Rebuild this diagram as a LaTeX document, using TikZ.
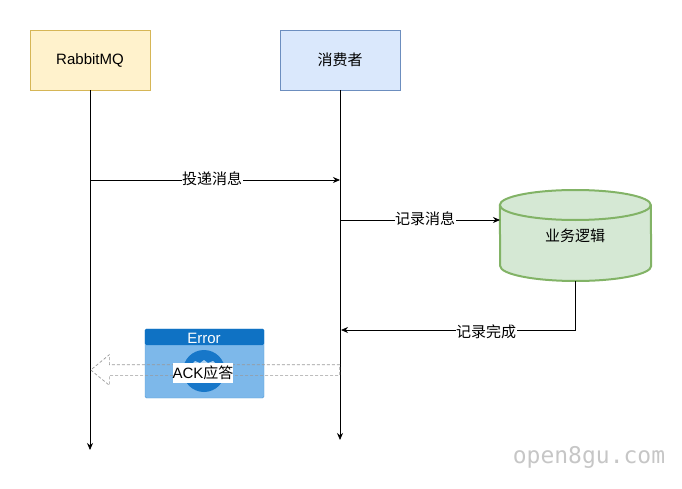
\documentclass[tikz,border=0pt]{standalone}
\usepackage{fontspec}
\setmainfont{Liberation Sans}
\newfontfamily\cjk{Noto Sans CJK SC}
\newfontfamily\wmfont{DejaVu Sans Mono}
\usetikzlibrary{positioning, arrows.meta, shapes.arrows}
\definecolor{mqfill}{HTML}{FFF2CC}
\definecolor{mqline}{HTML}{D6B656}
\definecolor{userfill}{HTML}{DAE8FC}
\definecolor{userline}{HTML}{6C8EBF}
\definecolor{dbfill}{HTML}{D5E8D4}
\definecolor{dbline}{HTML}{82B366}
\definecolor{errhead}{HTML}{0F72C4}
\definecolor{errbody}{HTML}{7DB8EA}
\definecolor{errdisc}{HTML}{1777C9}
\tikzset{
  every node/.style={font=\fontsize{15}{17}\selectfont},
  actor/.style={shape=rectangle,minimum width=120pt,minimum height=60pt,inner sep=0pt,line width=0.8pt},
  msg/.style={-{Stealth[length=7pt,width=6pt]},line width=0.8pt},
  lifeline/.style={-{Stealth[length=7pt,width=6pt]},line width=0.8pt},
  tag/.style={fill=white,inner sep=0.5pt}
}
\begin{document}
\begin{tikzpicture}[x=1pt,y=-1pt]
    \useasboundingbox (0,0) rectangle (682,489);

    \node[actor,draw=mqline,fill=mqfill] (mq) at (90,60) {RabbitMQ};
    \node[actor,draw=userline,fill=userfill] (user) at (340,60) {\cjk 消费者};

    \coordinate (mqend) at (90,450);
    \path [lifeline] (mq) edge (mqend);
    \coordinate (userend) at (340,440);
    \path [lifeline] (user) edge (userend);

    % error icon
    \node[shape=rectangle,rounded corners=1.5pt,fill=errbody,draw=errhead!70,minimum width=119pt,minimum height=69pt,inner sep=0pt] (err) at (204.5,363.5) {};
    \fill[errhead,rounded corners=1.5pt] (err.north west) rectangle (err.north east |- 0,345);
    \node[text=white,inner sep=0pt] (errtitle) at (204,338) {Error};
    \node[shape=circle,fill=errdisc,minimum size=42pt,inner sep=0pt] (disc) at (204,371) {};
    \fill[errbody!60] (190,366) -- (195,361) -- (200,363) -- (204,360) -- (208,363) -- (213,361) -- (218,366) -- cycle;

    % hollow arrow
    \node[single arrow,shape border rotate=180,draw=gray!80,dash pattern=on 3pt off 2pt,line width=0.7pt,
      text height=10pt,text depth=0pt,text width=0pt,
      minimum width=30pt,minimum height=249pt,single arrow head extend=10pt,
      single arrow tip angle=79,inner sep=0pt] (ackarrow) at (218.5,370) {};
    \node[tag,inner sep=0pt,minimum width=60pt,minimum height=20pt] (ack) at (203,373) {ACK{\cjk 应答}};

    % cylinder
    \node[shape=rectangle,minimum width=151pt,minimum height=91pt,inner sep=0pt] (db) at (575.5,235.5) {};
    \draw[draw=dbline,fill=dbfill,line width=2pt]
      (db.west |- 0,205) arc[start angle=180,end angle=0,x radius=75.5pt,y radius=15pt]
      -- (db.east |- 0,266) arc[start angle=360,end angle=180,x radius=75.5pt,y radius=15pt] -- cycle;
    \draw[draw=dbline,line width=2pt]
      (db.west |- 0,205) arc[start angle=180,end angle=360,x radius=75.5pt,y radius=15pt];
    \node (dblabel) at (575,236) {\cjk 业务逻辑};

    \coordinate (send0) at (90,180);
    \coordinate (send1) at (340,180);
    \path [msg] (send0) edge (send1);
    \node[tag] (sendlabel) at (212,179) {\cjk 投递消息};

    \coordinate (rec0) at (340,220);
    \coordinate (rec1) at (500,220);
    \path [msg] (rec0) edge (rec1);
    \node[tag] (reclabel) at (425,219) {\cjk 记录消息};

    \coordinate (done1) at (db.south |- 0,330);
    \coordinate (done2) at (341,330);
    \draw [msg] (db.south) -- (done1) -- (done2);
    \node[tag] (donelabel) at (486,332) {\cjk 记录完成};

    \node[text=gray!45,font=\wmfont\fontsize{23}{25}\selectfont,inner sep=0pt] (mark) at (589,457) {open8gu.com};
\end{tikzpicture}
\end{document}
